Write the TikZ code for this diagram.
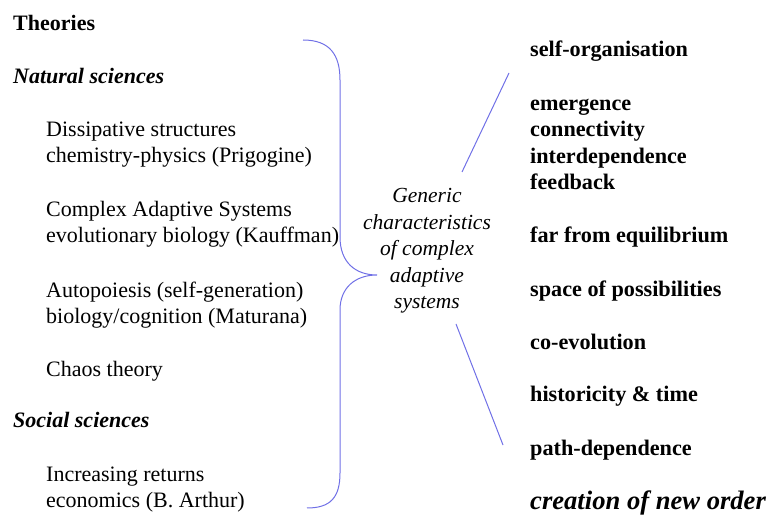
\documentclass[tikz,border=0pt]{standalone}
\usepackage{fontspec}
\setmainfont{Liberation Serif}
\usetikzlibrary{positioning}
\definecolor{bracecol}{RGB}{112,112,230}
\begin{document}
\begin{tikzpicture}[x=1pt,y=-1pt,inner sep=0pt,
  theory/.style={anchor=base west,align=left,font=\fontsize{22}{26}\selectfont},
  head/.style={anchor=base west,font=\fontsize{22}{26}\selectfont\bfseries},
  trait/.style={anchor=base west,align=left,font=\fontsize{22.2}{26.5}\selectfont\bfseries},
  link/.style={draw=bracecol,line width=1pt}]
\useasboundingbox (0,0) rectangle (769,518);
\node[head] (theories) at (13,31) {Theories};
\node[head,font=\fontsize{22}{26}\selectfont\bfseries\itshape] (natural) at (13,84) {Natural sciences};
\node[theory] (dissip) at (46,163) {Dissipative structures\\chemistry-physics (Prigogine)};
\node[theory] (cas) at (46,243) {Complex Adaptive Systems\\evolutionary biology (Kauffman)};
\node[theory] (autop) at (46,324) {Autopoiesis (self-generation)\\biology/cognition (Maturana)};
\node[theory] (chaos) at (46,377) {Chaos theory};
\node[head,font=\fontsize{22}{26}\selectfont\bfseries\itshape] (social) at (13,428) {Social sciences};
\node[theory] (returns) at (46,508) {Increasing returns\\economics (B. Arthur)};
\node[anchor=base,align=center,font=\fontsize{21.5}{26.5}\selectfont\itshape] (generic) at (427,309) {Generic\\characteristics\\of complex\\adaptive\\systems};
\node[trait] (selforg) at (530,57) {self-organisation};
\node[trait] (emerg) at (530,190) {emergence\\connectivity\\interdependence\\feedback};
\node[trait] (farfrom) at (530,243) {far from equilibrium};
\node[trait] (space) at (530,297) {space of possibilities};
\node[trait] (coevol) at (530,350) {co-evolution};
\node[trait] (hist) at (530,402) {historicity \& time};
\node[trait] (path) at (530,456) {path-dependence};
\node[trait,font=\fontsize{26.6}{26}\selectfont\bfseries\itshape] (neworder) at (530,510) {creation of new order};
\coordinate (btop) at (303,40);
\coordinate (btip) at (377,275);
\coordinate (bbot) at (307,508);
\coordinate (upstart) at (462,172);
\coordinate (upend) at (509,73);
\coordinate (lowstart) at (456,324);
\coordinate (lowend) at (503,445);
\draw[link] (btop) .. controls (330,40) and (340,55) .. (340,80) -- (340,237) .. controls (340,262) and (355,275) .. (btip) .. controls (355,275) and (340,288) .. (340,310) -- (340,473) .. controls (340,498) and (330,508) .. (bbot);
\foreach \a/\b in {upstart/upend,lowstart/lowend}{\draw[link] (\a)--(\b);}
\end{tikzpicture}
\end{document}
